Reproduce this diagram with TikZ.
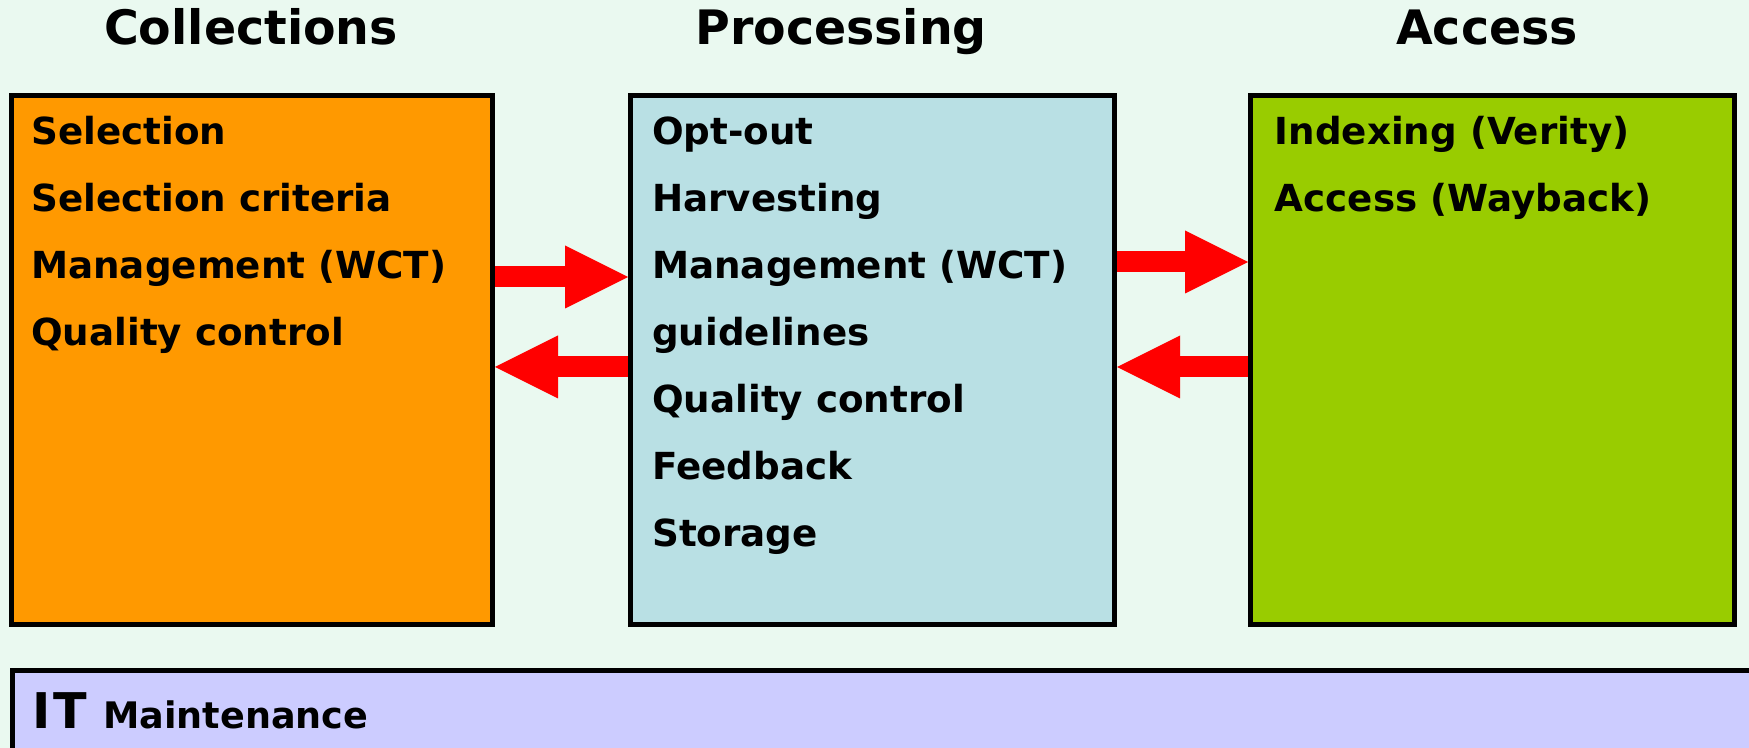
\documentclass[tikz,border=0pt]{standalone}
\usepackage{fontspec}
\setmainfont{DejaVu Sans}
\usetikzlibrary{arrows.meta}

\definecolor{bgmint}{RGB}{234,249,240}
\definecolor{collorange}{RGB}{255,153,0}
\definecolor{procblue}{RGB}{185,224,228}
\definecolor{accgreen}{RGB}{153,204,0}
\definecolor{itlilac}{RGB}{204,204,255}

\tikzset{
  stagebox/.style={draw=black, line width=0.5mm, minimum width=#1,
    minimum height=52.9mm, inner sep=0pt},
  stagetitle/.style={font=\fontsize{13.5}{16}\selectfont\bfseries,
    anchor=base, inner sep=0pt},
  stageitem/.style={font=\fontsize{10.6}{12}\selectfont\bfseries,
    anchor=base west, inner sep=0pt},
  flowarrow/.style={red, line width=2.1mm,
    -{Triangle[length=6.3mm,width=6.3mm,line width=0pt]}}
}

\begin{document}
\begin{tikzpicture}[x=0.1mm,y=-0.1mm]

  \useasboundingbox (0,0) rectangle (1749,748);
  \fill[bgmint] (0,0) rectangle (1749,748);

  % titles
  \node[stagetitle] (colltitle) at (251,45)  {Collections};
  \node[stagetitle] (proctitle) at (841,45)  {Processing};
  \node[stagetitle] (acctitle)  at (1487,45) {Access};

  % the three stages
  \node[stagebox=48.1mm, fill=collorange] (coll) at (252,360)    {};
  \node[stagebox=48.4mm, fill=procblue]   (proc) at (872.5,360)  {};
  \node[stagebox=48.4mm, fill=accgreen]   (acc)  at (1492.5,360) {};

  \foreach \txt [count=\i from 0] in {Selection, Selection criteria,
      {Management (WCT)}, Quality control}
    \node[stageitem] (coll-\i) at (30.5,{145+67*\i}) {\txt};

  \foreach \txt [count=\i from 0] in {Opt-out, Harvesting,
      {Management (WCT)}, guidelines, Quality control, Feedback, Storage}
    \node[stageitem] (proc-\i) at (651.5,{145+67*\i}) {\txt};

  \foreach \txt [count=\i from 0] in {{Indexing (Verity)},
      {Access (Wayback)}}
    \node[stageitem] (acc-\i) at (1274,{145+67*\i}) {\txt};

  % flows between stages
  \coordinate (fwd1) at (0,277);
  \coordinate (back1) at (0,367);
  \coordinate (fwd2) at (0,262);
  \coordinate (back2) at (0,367);
  \draw[flowarrow] (coll.east |- fwd1) -- (proc.west |- fwd1);
  \draw[flowarrow] (proc.west |- back1) -- (coll.east |- back1);
  \draw[flowarrow] (proc.east |- fwd2) -- (acc.west |- fwd2);
  \draw[flowarrow] (acc.west |- back2) -- (proc.east |- back2);

  % IT bar
  \node[draw=black, line width=0.5mm, fill=itlilac, minimum width=180mm,
    minimum height=12mm, inner sep=0pt, anchor=north west] (itbar) at (9.5,667.5) {};
  \node[anchor=base west, inner sep=0pt, font=\bfseries] (ittext) at (32,728)
    {\fontsize{14}{16}\selectfont I\kern0.06em T\kern-0.03em{} {\fontsize{10.4}{12}\selectfont Maintenance}};

\end{tikzpicture}
\end{document}
